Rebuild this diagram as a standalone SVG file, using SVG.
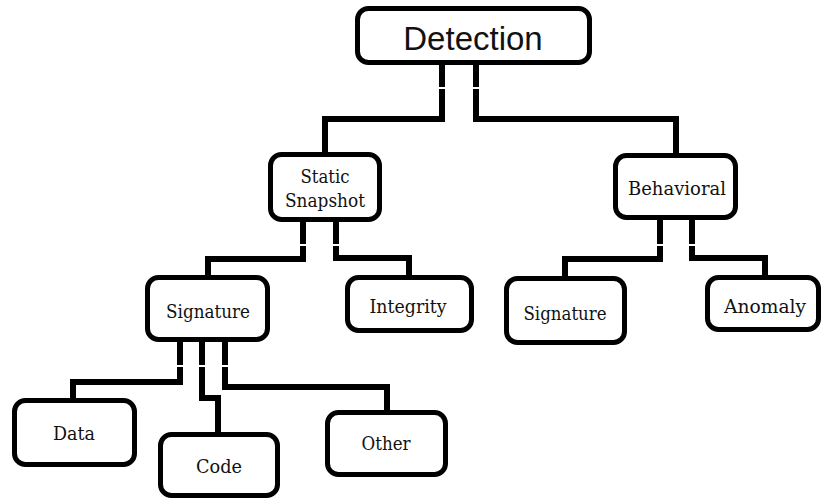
<svg xmlns="http://www.w3.org/2000/svg" width="824" height="501" viewBox="0 0 824 501">
<style>
.box{fill:#fff;stroke:#000;stroke-width:5}
.conn{fill:none;stroke:#000;stroke-width:6;stroke-linejoin:miter;stroke-linecap:butt}
.lbl{font-family:'DejaVu Serif','Liberation Serif',serif;font-size:18px;fill:#111;text-anchor:middle}
.title{font-family:'Liberation Sans',sans-serif;font-size:33px;fill:#111;text-anchor:middle}
</style>
<rect width="824" height="501" fill="#fff"/>
<g id="connectors">
<path class="conn" d="M442 63 V87 M442 89 V119 H325 V154"/>
<path class="conn" d="M476 63 V87 M476 89 V119 H676 V155"/>
<path class="conn" d="M303 220 V244 M303 246 V259 H208 V277"/>
<path class="conn" d="M336 220 V244 M336 246 V258 H409 V277"/>
<path class="conn" d="M660 218 V244 M660 246 V259 H565 V278"/>
<path class="conn" d="M692 218 V244 M692 246 V258 H765 V277"/>
<path class="conn" d="M180 340 V365 M180 367 V382 H73 V400"/>
<path class="conn" d="M202 340 V365 M202 367 V398 H218 V434"/>
<path class="conn" d="M225 340 V365 M225 367 V387 H387 V412"/>
</g>
<g id="detection">
<rect class="box" x="357.5" y="8.5" width="232" height="54" rx="11"/>
<text class="title" x="473" y="50">Detection</text>
</g>
<g id="static-snapshot">
<rect class="box" x="270.5" y="154.5" width="109" height="65" rx="11"/>
<text class="lbl" x="325" y="183" textLength="49" lengthAdjust="spacingAndGlyphs">Static</text>
<text class="lbl" x="325" y="207" textLength="80" lengthAdjust="spacingAndGlyphs">Snapshot</text>
</g>
<g id="behavioral">
<rect class="box" x="615.5" y="155.5" width="120" height="62" rx="11"/>
<text class="lbl" x="677" y="195" textLength="98" lengthAdjust="spacingAndGlyphs">Behavioral</text>
</g>
<g id="signature-static">
<rect class="box" x="147.5" y="277.5" width="120" height="62" rx="11"/>
<text class="lbl" x="208" y="318" textLength="84" lengthAdjust="spacingAndGlyphs">Signature</text>
</g>
<g id="integrity">
<rect class="box" x="347.5" y="277.5" width="124" height="53" rx="11"/>
<text class="lbl" x="408" y="313" textLength="77" lengthAdjust="spacingAndGlyphs">Integrity</text>
</g>
<g id="signature-behavioral">
<rect class="box" x="506.5" y="278.5" width="118" height="64" rx="11"/>
<text class="lbl" x="565" y="320" textLength="83" lengthAdjust="spacingAndGlyphs">Signature</text>
</g>
<g id="anomaly">
<rect class="box" x="707.5" y="277.5" width="111" height="52" rx="11"/>
<text class="lbl" x="765" y="313" textLength="82" lengthAdjust="spacingAndGlyphs">Anomaly</text>
</g>
<g id="data">
<rect class="box" x="14.5" y="400.5" width="120" height="64" rx="11"/>
<text class="lbl" x="74" y="440" textLength="42" lengthAdjust="spacingAndGlyphs">Data</text>
</g>
<g id="code">
<rect class="box" x="160.5" y="434.5" width="117" height="61" rx="11"/>
<text class="lbl" x="219" y="473" textLength="46" lengthAdjust="spacingAndGlyphs">Code</text>
</g>
<g id="other">
<rect class="box" x="327.5" y="412.5" width="118" height="62" rx="11"/>
<text class="lbl" x="386" y="450" textLength="49" lengthAdjust="spacingAndGlyphs">Other</text>
</g>
</svg>
